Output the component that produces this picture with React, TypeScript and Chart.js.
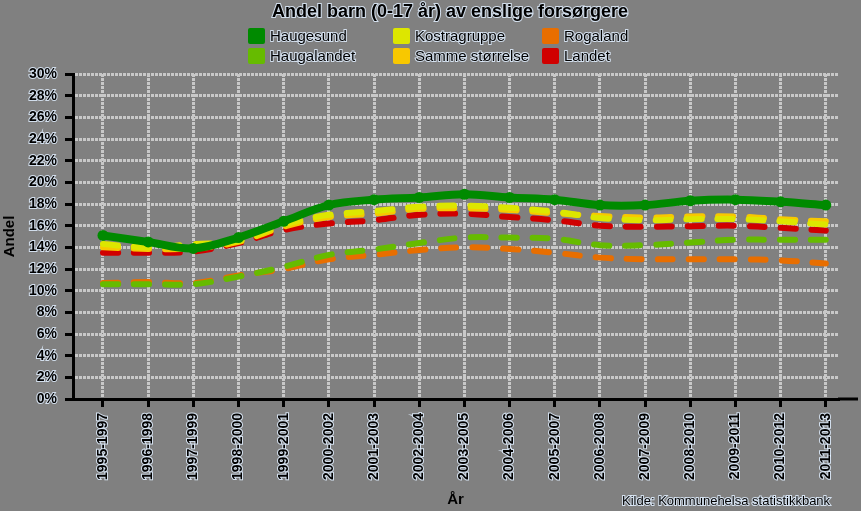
import React, { useEffect, useRef } from 'react';
import { Chart, registerables } from 'chart.js';

Chart.register(...registerables);

const categories = [
  '1995-1997', '1996-1998', '1997-1999', '1998-2000', '1999-2001', '2000-2002',
  '2001-2003', '2002-2004', '2003-2005', '2004-2006', '2005-2007', '2006-2008',
  '2007-2009', '2008-2010', '2009-2011', '2010-2012', '2011-2013',
];

const haugesund = [15.1, 14.5, 13.9, 14.9, 16.4, 17.9, 18.4, 18.6, 18.9, 18.6, 18.4, 17.9, 17.9, 18.3, 18.4, 18.2, 17.9];
const haugalandet = [10.6, 10.6, 10.6, 11.3, 12.2, 13.3, 13.8, 14.4, 14.9, 14.9, 14.8, 14.2, 14.2, 14.45, 14.7, 14.7, 14.7];
const kostragruppe = [14.3, 14.0, 14.3, 14.6, 16.1, 17.0, 17.35, 17.75, 17.85, 17.65, 17.3, 16.7, 16.5, 16.6, 16.6, 16.4, 16.1];
const sammeStorrelse = [14.0, 13.85, 13.9, 14.5, 15.9, 16.8, 17.1, 17.55, 17.6, 17.45, 17.15, 16.9, 16.75, 16.85, 16.85, 16.6, 16.4];
const rogaland = [10.7, 10.8, 10.7, 11.4, 12.0, 12.9, 13.3, 13.75, 14.0, 13.85, 13.5, 13.05, 12.9, 12.9, 12.9, 12.8, 12.5];
const landet = [13.5, 13.5, 13.6, 14.4, 15.6, 16.2, 16.5, 17.0, 17.1, 16.8, 16.5, 16.0, 15.9, 15.95, 16.0, 15.8, 15.55];

const seriesNames = ['Haugesund', 'Haugalandet', 'Kostragruppe', 'Samme størrelse', 'Rogaland', 'Landet'];
const seriesValues = [haugesund, haugalandet, kostragruppe, sammeStorrelse, rogaland, landet];
const seriesColors = ['#008a00', '#66bb00', '#dde600', '#f8c800', '#e86e00', '#d00000'];

const yMin = 0;
const yMax = 30;
const yStep = 2;

const chartTitle = 'Andel barn (0-17 år) av enslige forsørgere';
const yTitle = 'Andel';
const xTitle = 'År';
const sourceText = 'Kilde: Kommunehelsa statistikkbank';

const FONT = '"Liberation Sans", Arial, sans-serif';
const TEXT = '#000000';
const HALO = 'rgba(225,238,255,0.85)';

// legend placement: [column x, row y] for each series (Excel-style 3x2 grid)
const legendPos = [
  [248, 28], [248, 48], [393, 28], [393, 48], [542, 28], [542, 48],
];

const decorPlugin = {
  id: 'decor',
  afterDraw(chart: any) {
    const ctx = chart.ctx;
    const area = chart.chartArea;
    ctx.save();
    // axis extension to the right
    ctx.strokeStyle = '#000';
    ctx.lineWidth = 3;
    ctx.beginPath();
    ctx.moveTo(area.right, area.bottom);
    ctx.lineTo(858, area.bottom);
    ctx.stroke();

    // title
    ctx.font = `bold 18px ${FONT}`;
    ctx.textAlign = 'center';
    ctx.textBaseline = 'middle';
    ctx.lineWidth = 2;
    ctx.strokeStyle = HALO;
    ctx.strokeText(chartTitle, 450, 12);
    ctx.fillStyle = TEXT;
    ctx.fillText(chartTitle, 450, 12);

    // legend
    ctx.font = `15px ${FONT}`;
    ctx.textAlign = 'left';
    seriesNames.forEach((name, i) => {
      const [x, y] = legendPos[i];
      ctx.fillStyle = seriesColors[i];
      ctx.beginPath();
      ctx.roundRect(x, y, 17, 16, 2);
      ctx.fill();
      ctx.strokeStyle = HALO;
      ctx.lineWidth = 2;
      ctx.strokeText(name, x + 22, y + 8.5);
      ctx.fillStyle = TEXT;
      ctx.fillText(name, x + 22, y + 8.5);
    });

    // source
    ctx.font = `13px ${FONT}`;
    ctx.strokeStyle = HALO;
    ctx.strokeText(sourceText, 622, 501);
    ctx.fillStyle = TEXT;
    ctx.fillText(sourceText, 622, 501);
    ctx.restore();
  },
};

export default function App() {
  const ref = useRef<HTMLCanvasElement | null>(null);

  useEffect(() => {
    if (!ref.current) return;
    const datasets = seriesNames.map((name, i) => {
      const isMain = i === 0;
      return {
        label: name,
        data: seriesValues[i].map((v, j) => ({ x: j, y: v })),
        borderColor: seriesColors[i],
        backgroundColor: seriesColors[i],
        borderWidth: isMain ? 8 : 6,
        borderDash: isMain ? [] : [15, 16],
        borderCapStyle: isMain ? 'butt' : 'round',
        pointRadius: isMain ? 5.5 : 0,
        pointBorderWidth: 0,
        pointHoverRadius: 0,
        tension: 0.35,
        fill: false,
      };
    });

    const chart = new Chart(ref.current, {
      type: 'line',
      data: { datasets } as any,
      plugins: [decorPlugin],
      options: {
        animation: false,
        responsive: false,
        devicePixelRatio: 1,
        layout: { padding: { top: 74, right: 23, bottom: 0, left: 0 } },
        plugins: {
          legend: { display: false },
          title: { display: false },
          tooltip: { enabled: false },
        },
        scales: {
          x: {
            type: 'linear',
            min: -0.664,
            max: 16.27,
            afterBuildTicks: (s: any) => {
              s.ticks = categories.map((_, i) => ({ value: i }));
            },
            afterFit: (s: any) => {
              s.height = 112;
            },
            ticks: {
              autoSkip: false,
              minRotation: 90,
              maxRotation: 90,
              padding: 6,
              color: TEXT,
              textStrokeColor: HALO,
              textStrokeWidth: 2,
              font: { family: FONT, size: 14, weight: 'bold' },
              callback: (v: any) => categories[v] ?? '',
            },
            grid: {
              color: '#c8c8c8',
              lineWidth: 3,
              tickColor: '#000',
              tickWidth: 3,
              tickLength: 8,
            },
            border: { display: true, color: '#000', width: 3, dash: [3, 1] },
            title: {
              display: true,
              text: xTitle,
              color: TEXT,
              font: { family: FONT, size: 15, weight: 'bold' },
              padding: { top: 0, bottom: 2 },
            },
          },
          y: {
            min: yMin,
            max: yMax,
            afterFit: (s: any) => {
              s.width = 73;
            },
            ticks: {
              stepSize: yStep,
              padding: 8,
              color: TEXT,
              textStrokeColor: HALO,
              textStrokeWidth: 2,
              font: { family: FONT, size: 14, weight: 'bold' },
              callback: (v: any) => `${v}%`,
            },
            grid: {
              color: '#c8c8c8',
              lineWidth: 3,
              tickColor: '#000',
              tickWidth: 3,
              tickLength: 8,
            },
            border: { display: true, color: '#000', width: 3, dash: [3, 1] },
            title: {
              display: true,
              text: yTitle,
              color: TEXT,
              font: { family: FONT, size: 15, weight: 'bold' },
              padding: { top: 1, bottom: 0 },
            },
          },
        },
      } as any,
    });
    return () => chart.destroy();
  }, []);

  return (
    <div style={{ position: 'fixed', left: 0, top: 0, width: 861, height: 511, background: '#808080' }}>
      <canvas ref={ref} width={861} height={511} style={{ display: 'block' }} />
    </div>
  );
}
